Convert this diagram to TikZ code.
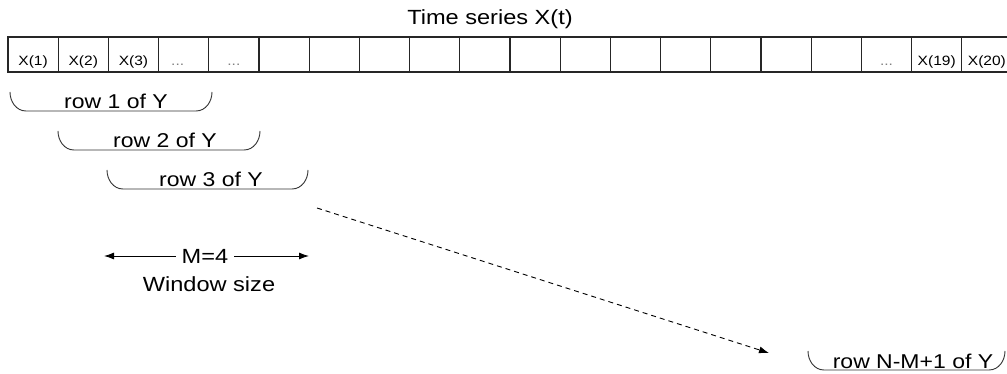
\documentclass[tikz,border=0pt]{standalone}
\usepackage{fontspec}
\setmainfont[FakeStretch=1.15]{Liberation Sans}
\usetikzlibrary{arrows.meta}
\begin{document}
\begin{tikzpicture}[x=1pt,y=-1pt,
  cellbox/.style={draw=black!85, line width=1.1pt},
  celltext/.style={font=\fontsize{13.5}{13.5}\selectfont, anchor=base, inner sep=0pt},
  rowtext/.style={font=\fontsize{20}{20}\selectfont, anchor=base, inner sep=0pt},
  bigtext/.style={font=\fontsize{20.5}{20.5}\selectfont, anchor=base, inner sep=0pt},
  bracket/.style={line width=0.9pt, draw=black!80},
  arr/.style={-{Latex[length=10pt,width=7pt]}, line width=0.9pt}]
\useasboundingbox (0,0) rectangle (1007,374);
% title
\node[font=\fontsize{20.5}{20.5}\selectfont, anchor=base, inner sep=0pt] (title) at (490,25) {Time series X(t)};
% cells
\foreach \i in {1,...,20} {
  \pgfmathsetmacro{\xl}{8+(\i-1)*50.2}
  \pgfmathsetmacro{\xr}{8+\i*50.2}
  \draw[cellbox] (\xl,37) rectangle (\xr,72);
  \coordinate (c\i) at ({8+(\i-0.5)*50.2},66);
}
\node[celltext] (l1) at (c1) {X(1)};
\node[celltext] (l2) at (c2) {X(2)};
\node[celltext] (l3) at (c3) {X(3)};
\node[celltext, text=gray] (l4) at ([xshift=-6pt]c4) {...};
\node[celltext, text=gray] (l5) at (c5) {...};
\node[celltext, text=gray] (l18) at (c18) {...};
\node[celltext] (l19) at (c19) {X(19)};
\node[celltext] (l20) at (c20) {X(20)};
% brackets
\newcommand{\brk}[4]{% x1, x2, top, bottom
  \draw[bracket] (#1,#3) to[out=-90,in=180] (#1+16,#4) -- (#2-16,#4) to[out=0,in=-90] (#2,#3);}
\brk{10}{212}{92}{111}
\node[rowtext] (r1) at (116,109) {row 1 of Y};
\brk{58}{260}{131}{150}
\node[rowtext] (r2) at (165,148) {row 2 of Y};
\brk{107}{308}{170}{189}
\node[rowtext] (r3) at (211,187) {row 3 of Y};
\brk{808}{1005}{351}{370}
\node[rowtext] (rn) at (913,368) {row N-M+1 of Y};
% dashed arrow
\coordinate (ds) at (317,208);
\coordinate (de) at (769,353);
\draw[arr, dashed, dash pattern=on 5pt off 4pt] (ds) -- (de);
% window
\node[bigtext] (m) at (205,263) {M=4};
\node[bigtext] (w) at (209,291) {Window size};
\coordinate (la) at (104,256);
\coordinate (ra) at (309,256);
\draw[arr] ([xshift=-6pt]m.west |- la) -- (la);
\draw[arr] ([xshift=6pt]m.east |- ra) -- (ra);
\end{tikzpicture}
\end{document}
